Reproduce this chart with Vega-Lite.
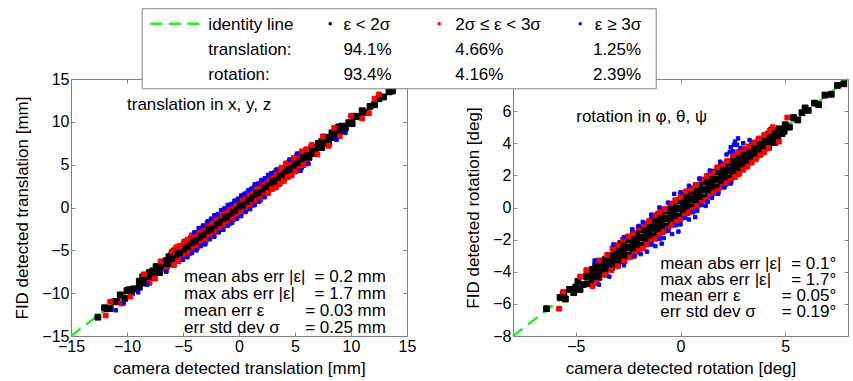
{
"$schema":"https://vega.github.io/schema/vega-lite/v6.json",
"background":"white",
"padding":{"left":13,"top":7,"right":3,"bottom":3},
"bounds":"flush",
"spacing":106,
"config":{
 "font":"Liberation Sans",
 "view":{"stroke":"#808080","strokeWidth":1},
 "axis":{"domain":false,"grid":false,"tickColor":"#808080","tickSize":-4,"labelFlush":false,"labelOverlap":false,"labelFont":"Liberation Sans","labelFontSize":16,"labelColor":"#000","titleFont":"Liberation Sans","titleFontSize":17,"titleFontWeight":"normal","titleColor":"#000","labelPadding":6,"titlePadding":6},
 "text":{"font":"Liberation Sans","fontSize":17,"color":"#000"}
},
"hconcat":[
{
 "width":336,"height":257,
 "data":{"values":[
{"x":-6,"y":-6.6,"c":"k"},{"x":-6,"y":-6.0,"c":"k"},{"x":-6,"y":-5.5,"c":"k"},
{"x":-5.75,"y":-6.15,"c":"k"},{"x":-5.75,"y":-5.55,"c":"k"},{"x":-5.75,"y":-5.05,"c":"k"},
{"x":-5.5,"y":-6.2,"c":"k"},{"x":-5.5,"y":-5.7,"c":"k"},{"x":-5.5,"y":-5.1,"c":"k"},
{"x":-5.25,"y":-5.75,"c":"k"},{"x":-5.25,"y":-5.15,"c":"k"},{"x":-5.25,"y":-4.65,"c":"k"},
{"x":-5,"y":-5.6,"c":"k"},{"x":-5,"y":-5.0,"c":"k"},{"x":-5,"y":-4.5,"c":"k"},
{"x":-4.75,"y":-5.15,"c":"k"},{"x":-4.75,"y":-4.55,"c":"k"},{"x":-4.75,"y":-4.05,"c":"k"},
{"x":-4.5,"y":-5.2,"c":"k"},{"x":-4.5,"y":-4.7,"c":"k"},{"x":-4.5,"y":-4.1,"c":"k"},
{"x":-4.25,"y":-4.75,"c":"k"},{"x":-4.25,"y":-4.15,"c":"k"},{"x":-4.25,"y":-3.65,"c":"k"},
{"x":-4,"y":-4.6,"c":"k"},{"x":-4,"y":-4.0,"c":"k"},{"x":-4,"y":-3.5,"c":"k"},
{"x":-3.75,"y":-4.15,"c":"k"},{"x":-3.75,"y":-3.55,"c":"k"},{"x":-3.75,"y":-3.05,"c":"k"},
{"x":-3.5,"y":-4.2,"c":"k"},{"x":-3.5,"y":-3.7,"c":"k"},{"x":-3.5,"y":-3.1,"c":"k"},
{"x":-3.25,"y":-3.75,"c":"k"},{"x":-3.25,"y":-3.15,"c":"k"},{"x":-3.25,"y":-2.65,"c":"k"},
{"x":-3,"y":-3.6,"c":"k"},{"x":-3,"y":-3.0,"c":"k"},{"x":-3,"y":-2.5,"c":"k"},
{"x":-2.75,"y":-3.15,"c":"k"},{"x":-2.75,"y":-2.55,"c":"k"},{"x":-2.75,"y":-2.05,"c":"k"},
{"x":-2.5,"y":-3.2,"c":"k"},{"x":-2.5,"y":-2.7,"c":"k"},{"x":-2.5,"y":-2.1,"c":"k"},
{"x":-2.25,"y":-2.75,"c":"k"},{"x":-2.25,"y":-2.15,"c":"k"},{"x":-2.25,"y":-1.65,"c":"k"},
{"x":-2,"y":-2.6,"c":"k"},{"x":-2,"y":-2.0,"c":"k"},{"x":-2,"y":-1.5,"c":"k"},
{"x":-1.75,"y":-2.15,"c":"k"},{"x":-1.75,"y":-1.55,"c":"k"},{"x":-1.75,"y":-1.05,"c":"k"},
{"x":-1.5,"y":-2.2,"c":"k"},{"x":-1.5,"y":-1.7,"c":"k"},{"x":-1.5,"y":-1.1,"c":"k"},
{"x":-1.25,"y":-1.75,"c":"k"},{"x":-1.25,"y":-1.15,"c":"k"},{"x":-1.25,"y":-0.65,"c":"k"},
{"x":-1,"y":-1.6,"c":"k"},{"x":-1,"y":-1.0,"c":"k"},{"x":-1,"y":-0.5,"c":"k"},
{"x":-0.75,"y":-1.15,"c":"k"},{"x":-0.75,"y":-0.55,"c":"k"},{"x":-0.75,"y":-0.05,"c":"k"},
{"x":-0.5,"y":-1.2,"c":"k"},{"x":-0.5,"y":-0.7,"c":"k"},{"x":-0.5,"y":-0.1,"c":"k"},
{"x":-0.25,"y":-0.75,"c":"k"},{"x":-0.25,"y":-0.15,"c":"k"},{"x":-0.25,"y":0.35,"c":"k"},
{"x":0,"y":-0.6,"c":"k"},{"x":0,"y":0,"c":"k"},{"x":0,"y":0.5,"c":"k"},
{"x":0.25,"y":-0.15,"c":"k"},{"x":0.25,"y":0.45,"c":"k"},{"x":0.25,"y":0.95,"c":"k"},
{"x":0.5,"y":-0.2,"c":"k"},{"x":0.5,"y":0.3,"c":"k"},{"x":0.5,"y":0.9,"c":"k"},
{"x":0.75,"y":0.25,"c":"k"},{"x":0.75,"y":0.85,"c":"k"},{"x":0.75,"y":1.35,"c":"k"},
{"x":1,"y":0.4,"c":"k"},{"x":1,"y":1.0,"c":"k"},{"x":1,"y":1.5,"c":"k"},
{"x":1.25,"y":0.85,"c":"k"},{"x":1.25,"y":1.45,"c":"k"},{"x":1.25,"y":1.95,"c":"k"},
{"x":1.5,"y":0.8,"c":"k"},{"x":1.5,"y":1.3,"c":"k"},{"x":1.5,"y":1.9,"c":"k"},
{"x":1.75,"y":1.25,"c":"k"},{"x":1.75,"y":1.85,"c":"k"},{"x":1.75,"y":2.35,"c":"k"},
{"x":2,"y":1.4,"c":"k"},{"x":2,"y":2.0,"c":"k"},{"x":2,"y":2.5,"c":"k"},
{"x":2.25,"y":1.85,"c":"k"},{"x":2.25,"y":2.45,"c":"k"},{"x":2.25,"y":2.95,"c":"k"},
{"x":2.5,"y":1.8,"c":"k"},{"x":2.5,"y":2.3,"c":"k"},{"x":2.5,"y":2.9,"c":"k"},
{"x":2.75,"y":2.25,"c":"k"},{"x":2.75,"y":2.85,"c":"k"},{"x":2.75,"y":3.35,"c":"k"},
{"x":3,"y":2.4,"c":"k"},{"x":3,"y":3.0,"c":"k"},{"x":3,"y":3.5,"c":"k"},
{"x":3.25,"y":2.85,"c":"k"},{"x":3.25,"y":3.45,"c":"k"},{"x":3.25,"y":3.95,"c":"k"},
{"x":3.5,"y":2.8,"c":"k"},{"x":3.5,"y":3.3,"c":"k"},{"x":3.5,"y":3.9,"c":"k"},
{"x":3.75,"y":3.25,"c":"k"},{"x":3.75,"y":3.85,"c":"k"},{"x":3.75,"y":4.35,"c":"k"},
{"x":4,"y":3.4,"c":"k"},{"x":4,"y":4.0,"c":"k"},{"x":4,"y":4.5,"c":"k"},
{"x":4.25,"y":3.85,"c":"k"},{"x":4.25,"y":4.45,"c":"k"},{"x":4.25,"y":4.95,"c":"k"},
{"x":4.5,"y":3.8,"c":"k"},{"x":4.5,"y":4.3,"c":"k"},{"x":4.5,"y":4.9,"c":"k"},
{"x":4.75,"y":4.25,"c":"k"},{"x":4.75,"y":4.85,"c":"k"},{"x":4.75,"y":5.35,"c":"k"},
{"x":5,"y":4.4,"c":"k"},{"x":5,"y":5.0,"c":"k"},{"x":5,"y":5.5,"c":"k"},
{"x":5.25,"y":4.85,"c":"k"},{"x":5.25,"y":5.45,"c":"k"},{"x":5.25,"y":5.95,"c":"k"},
{"x":5.5,"y":4.8,"c":"k"},{"x":5.5,"y":5.3,"c":"k"},{"x":5.5,"y":5.9,"c":"k"},
{"x":5.75,"y":5.25,"c":"k"},{"x":5.75,"y":5.85,"c":"k"},{"x":5.75,"y":6.35,"c":"k"},
{"x":6,"y":5.4,"c":"k"},{"x":6,"y":6.0,"c":"k"},{"x":6,"y":6.5,"c":"k"},
{"x":-8.9,"y":-9.3,"c":"k"},{"x":-8.9,"y":-8.6,"c":"k"},{"x":-8.6,"y":-8.8,"c":"k"},{"x":-8.6,"y":-8.1,"c":"k"},
{"x":-8.3,"y":-8.8,"c":"k"},{"x":-8.3,"y":-8.2,"c":"k"},{"x":-8,"y":-8.1,"c":"k"},{"x":-8,"y":-7.6,"c":"k"},
{"x":-7.7,"y":-8.1,"c":"k"},{"x":-7.7,"y":-7.4,"c":"k"},{"x":-7.4,"y":-7.6,"c":"k"},{"x":-7.4,"y":-6.9,"c":"k"},
{"x":-7.1,"y":-7.6,"c":"k"},{"x":-7.1,"y":-7.0,"c":"k"},{"x":-6.8,"y":-6.9,"c":"k"},{"x":-6.8,"y":-6.4,"c":"k"},
{"x":-6.5,"y":-6.9,"c":"k"},{"x":-6.5,"y":-6.2,"c":"k"},{"x":-6.25,"y":-6.45,"c":"k"},{"x":-6.25,"y":-5.75,"c":"k"},
{"x":6.25,"y":5.85,"c":"k"},{"x":6.25,"y":6.55,"c":"k"},{"x":6.5,"y":6.3,"c":"k"},{"x":6.5,"y":7.0,"c":"k"},
{"x":6.8,"y":6.3,"c":"k"},{"x":6.8,"y":6.9,"c":"k"},{"x":7.1,"y":7.0,"c":"k"},{"x":7.1,"y":7.5,"c":"k"},
{"x":7.4,"y":7.0,"c":"k"},{"x":7.4,"y":7.7,"c":"k"},{"x":7.7,"y":7.5,"c":"k"},{"x":7.7,"y":8.2,"c":"k"},
{"x":8,"y":7.5,"c":"k"},{"x":8,"y":8.1,"c":"k"},{"x":8.3,"y":8.2,"c":"k"},{"x":8.3,"y":8.7,"c":"k"},
{"x":8.6,"y":8.2,"c":"k"},{"x":8.6,"y":8.9,"c":"k"},{"x":8.9,"y":8.7,"c":"k"},{"x":8.9,"y":9.4,"c":"k"},
{"x":-12.6,"y":-12.8,"c":"k"},{"x":-12,"y":-11.7,"c":"k"},{"x":-11.5,"y":-11.8,"c":"k"},{"x":-11.1,"y":-11.0,"c":"k"},
{"x":-10.6,"y":-10.2,"c":"k"},{"x":-10.2,"y":-10.6,"c":"k"},{"x":-9.8,"y":-9.6,"c":"k"},{"x":-9.4,"y":-9.5,"c":"k"},
{"x":-11.8,"y":-11.8,"c":"k"},{"x":-10.9,"y":-11.0,"c":"k"},{"x":-10,"y":-9.7,"c":"k"},{"x":-9.6,"y":-9.9,"c":"k"},
{"x":9.2,"y":9.5,"c":"k"},{"x":9.5,"y":9.3,"c":"k"},{"x":9.8,"y":9.9,"c":"k"},{"x":10.1,"y":9.8,"c":"k"},
{"x":10.4,"y":10.6,"c":"k"},{"x":10.7,"y":10.6,"c":"k"},{"x":11,"y":11.3,"c":"k"},{"x":11.3,"y":11.1,"c":"k"},
{"x":11.7,"y":11.8,"c":"k"},{"x":12.1,"y":12.0,"c":"k"},{"x":12.5,"y":12.7,"c":"k"},{"x":12.9,"y":12.9,"c":"k"},
{"x":13.4,"y":13.5,"c":"k"},{"x":13.7,"y":13.6,"c":"k"},{"x":9.35,"y":8.95,"c":"k"},{"x":10.25,"y":10.65,"c":"k"},
{"x":-6,"y":-5.15,"c":"r"},{"x":-5.6,"y":-4.65,"c":"r"},{"x":-5.3,"y":-4.5,"c":"r"},{"x":-4.9,"y":-4.0,"c":"r"},
{"x":-4.6,"y":-3.75,"c":"r"},{"x":-4.2,"y":-3.25,"c":"r"},{"x":-3.9,"y":-3.1,"c":"r"},{"x":-3.5,"y":-2.6,"c":"r"},
{"x":-3.2,"y":-2.35,"c":"r"},{"x":-2.8,"y":-1.85,"c":"r"},{"x":-2.5,"y":-1.7,"c":"r"},{"x":-2.1,"y":-1.2,"c":"r"},
{"x":-1.8,"y":-0.95,"c":"r"},{"x":-1.4,"y":-0.45,"c":"r"},{"x":-1.1,"y":-0.3,"c":"r"},{"x":-0.7,"y":0.2,"c":"r"},
{"x":-0.4,"y":0.45,"c":"r"},{"x":0,"y":0.95,"c":"r"},{"x":0.3,"y":1.1,"c":"r"},{"x":0.7,"y":1.6,"c":"r"},
{"x":1,"y":1.85,"c":"r"},{"x":1.4,"y":2.35,"c":"r"},{"x":1.7,"y":2.5,"c":"r"},{"x":2.1,"y":3.0,"c":"r"},
{"x":2.4,"y":3.25,"c":"r"},{"x":2.8,"y":3.75,"c":"r"},{"x":3.1,"y":3.9,"c":"r"},{"x":3.5,"y":4.4,"c":"r"},
{"x":3.8,"y":4.65,"c":"r"},{"x":4.2,"y":5.15,"c":"r"},{"x":4.5,"y":5.3,"c":"r"},{"x":4.9,"y":5.8,"c":"r"},
{"x":5.2,"y":6.05,"c":"r"},{"x":5.6,"y":6.55,"c":"r"},{"x":6,"y":6.8,"c":"r"},
{"x":-5.8,"y":-6.7,"c":"r"},{"x":-5.45,"y":-6.25,"c":"r"},{"x":-5.1,"y":-6.05,"c":"r"},{"x":-4.75,"y":-5.6,"c":"r"},
{"x":-4.4,"y":-5.3,"c":"r"},{"x":-4.05,"y":-4.85,"c":"r"},{"x":-3.7,"y":-4.65,"c":"r"},{"x":-3.35,"y":-4.2,"c":"r"},
{"x":-3,"y":-3.9,"c":"r"},{"x":-2.65,"y":-3.45,"c":"r"},{"x":-2.3,"y":-3.25,"c":"r"},{"x":-1.95,"y":-2.8,"c":"r"},
{"x":-1.6,"y":-2.5,"c":"r"},{"x":-1.25,"y":-2.05,"c":"r"},{"x":-0.9,"y":-1.85,"c":"r"},{"x":-0.55,"y":-1.4,"c":"r"},
{"x":-0.2,"y":-1.1,"c":"r"},{"x":0.15,"y":-0.65,"c":"r"},{"x":0.5,"y":-0.45,"c":"r"},{"x":0.85,"y":0.0,"c":"r"},
{"x":1.2,"y":0.3,"c":"r"},{"x":1.55,"y":0.75,"c":"r"},{"x":1.9,"y":0.95,"c":"r"},{"x":2.25,"y":1.4,"c":"r"},
{"x":2.6,"y":1.7,"c":"r"},{"x":2.95,"y":2.15,"c":"r"},{"x":3.3,"y":2.35,"c":"r"},{"x":3.65,"y":2.8,"c":"r"},
{"x":4,"y":3.1,"c":"r"},{"x":4.35,"y":3.55,"c":"r"},{"x":4.7,"y":3.75,"c":"r"},{"x":5.05,"y":4.2,"c":"r"},
{"x":5.4,"y":4.5,"c":"r"},{"x":5.75,"y":4.95,"c":"r"},{"x":6.1,"y":5.15,"c":"r"},
{"x":-11.5,"y":-11.0,"c":"r"},{"x":-10.5,"y":-11.2,"c":"r"},{"x":-11.9,"y":-12.6,"c":"r"},{"x":-9.7,"y":-10.4,"c":"r"},
{"x":-8.5,"y":-7.8,"c":"r"},{"x":-8,"y":-8.8,"c":"r"},{"x":-7.5,"y":-8.3,"c":"r"},{"x":-7,"y":-6.3,"c":"r"},
{"x":-6.5,"y":-7.3,"c":"r"},{"x":6.5,"y":7.3,"c":"r"},{"x":7,"y":6.2,"c":"r"},{"x":7.5,"y":8.3,"c":"r"},
{"x":8,"y":7.2,"c":"r"},{"x":8.5,"y":9.3,"c":"r"},{"x":9,"y":8.3,"c":"r"},{"x":10,"y":10.7,"c":"r"},
{"x":11,"y":10.4,"c":"r"},{"x":11.6,"y":11.0,"c":"r"},{"x":12.1,"y":12.7,"c":"r"},{"x":12.5,"y":13.2,"c":"r"},
{"x":-4,"y":-2.9,"c":"b"},{"x":-3.6,"y":-2.4,"c":"b"},{"x":-3.2,"y":-2.1,"c":"b"},{"x":-2.8,"y":-1.6,"c":"b"},
{"x":-2.5,"y":-1.3,"c":"b"},{"x":-2.2,"y":-0.9,"c":"b"},{"x":-1.9,"y":-0.8,"c":"b"},{"x":-1.6,"y":-0.3,"c":"b"},
{"x":-1.3,"y":-0.1,"c":"b"},{"x":-1,"y":0.3,"c":"b"},{"x":-0.7,"y":0.4,"c":"b"},{"x":-0.4,"y":0.8,"c":"b"},
{"x":-0.1,"y":1.0,"c":"b"},{"x":0.2,"y":1.4,"c":"b"},{"x":0.5,"y":1.6,"c":"b"},{"x":0.8,"y":2.0,"c":"b"},
{"x":1.1,"y":2.2,"c":"b"},{"x":1.4,"y":2.7,"c":"b"},{"x":1.7,"y":2.8,"c":"b"},{"x":2,"y":3.2,"c":"b"},
{"x":2.3,"y":3.4,"c":"b"},{"x":2.6,"y":3.8,"c":"b"},{"x":2.9,"y":4.0,"c":"b"},{"x":3.3,"y":4.4,"c":"b"},
{"x":-5,"y":-6.1,"c":"b"},{"x":-4.6,"y":-5.8,"c":"b"},{"x":-4.2,"y":-5.3,"c":"b"},{"x":-3.8,"y":-5.0,"c":"b"},
{"x":-3.4,"y":-4.5,"c":"b"},{"x":-3,"y":-4.3,"c":"b"},{"x":-2.6,"y":-3.7,"c":"b"},{"x":-2.2,"y":-3.4,"c":"b"},
{"x":-1.8,"y":-2.9,"c":"b"},{"x":-1.4,"y":-2.6,"c":"b"},{"x":-1,"y":-2.1,"c":"b"},{"x":-0.6,"y":-1.8,"c":"b"},
{"x":-0.2,"y":-1.3,"c":"b"},{"x":0.2,"y":-1.0,"c":"b"},{"x":0.6,"y":-0.5,"c":"b"},{"x":1,"y":-0.2,"c":"b"},
{"x":1.4,"y":0.3,"c":"b"},{"x":1.8,"y":0.7,"c":"b"},{"x":2.3,"y":1.2,"c":"b"},
{"x":-11,"y":-12.0,"c":"b"},{"x":-10.3,"y":-11.2,"c":"b"},{"x":-9,"y":-9.9,"c":"b"},{"x":-8.2,"y":-9.0,"c":"b"},
{"x":-6.5,"y":-7.5,"c":"b"},{"x":5.5,"y":4.3,"c":"b"},{"x":6.2,"y":5.1,"c":"b"},{"x":4.5,"y":5.6,"c":"b"},
{"x":5.2,"y":6.3,"c":"b"},{"x":8.7,"y":7.9,"c":"b"},{"x":9.5,"y":8.7,"c":"b"}
 ]},
 "layer":[
  {"data":{"values":[{}]},
   "mark":{"type":"rule","color":"#22ee22","strokeWidth":2.5,"strokeDash":[12,7]},
   "encoding":{
    "x":{"datum":-15,"type":"quantitative","scale":{"domain":[-15,15],"nice":false,"zero":false},"axis":{"orient":"bottom","values":[-15,-10,-5,0,5,10,15],"title":"camera detected translation [mm]"}},
    "y":{"datum":-15,"type":"quantitative","scale":{"domain":[-15,15],"nice":false,"zero":false},"axis":{"orient":"left","values":[-15,-10,-5,0,5,10,15],"title":"FID detected translation [mm]","titlePadding":10}},
    "x2":{"datum":15},"y2":{"datum":15}}},
  {"mark":{"type":"square","opacity":1,"strokeWidth":1,"strokeOpacity":1},
   "encoding":{
    "x":{"field":"x","type":"quantitative","scale":{"domain":[-15,15],"nice":false,"zero":false},"axis":{"orient":"top","values":[-15,-10,-5,0,5,10,15],"labels":false,"title":null}},
    "y":{"field":"y","type":"quantitative","scale":{"domain":[-15,15],"nice":false,"zero":false},"axis":{"orient":"right","values":[-15,-10,-5,0,5,10,15],"labels":false,"title":null}},
    "color":{"field":"c","type":"nominal","scale":{"domain":["k","r","b"],"range":["#000000","#ff0000","#0000ff"]},"legend":null},
    "stroke":{"field":"c","type":"nominal","scale":{"domain":["k","r","b"],"range":["#000000","#ff0000","#0000ff"]},"legend":null},
    "size":{"field":"c","type":"nominal","scale":{"domain":["k","r","b"],"range":[34,12,7]},"legend":null}}},
  {"data":{"values":[{}]},
   "mark":{"type":"text","text":"translation in x, y, z","align":"left","baseline":"middle"},
   "encoding":{"x":{"datum":-10,"type":"quantitative","axis":null},"y":{"datum":11.93,"type":"quantitative","axis":null}}},
  {"data":{"values":[{}]},
   "mark":{"type":"text","text":["mean abs err |ε|","max abs err |ε|","mean err ε","err std dev σ"],"align":"left","baseline":"middle","lineHeight":17},
   "encoding":{"x":{"datum":-4.9,"type":"quantitative","axis":null},"y":{"datum":-8.1,"type":"quantitative","axis":null}}},
  {"data":{"values":[{}]},
   "mark":{"type":"text","text":["= 0.2 mm","= 1.7 mm","= 0.03 mm","= 0.25 mm"],"align":"right","baseline":"middle","lineHeight":17},
   "encoding":{"x":{"datum":13.12,"type":"quantitative","axis":null},"y":{"datum":-8.1,"type":"quantitative","axis":null}}}
 ],
 "resolve":{"axis":{"x":"independent","y":"independent"}}
},
{
 "width":335,"height":257,
 "data":{"values":[
{"x":-4.2,"y":-4.65,"c":"k"},{"x":-4.2,"y":-4.25,"c":"k"},{"x":-4.2,"y":-3.85,"c":"k"},
{"x":-4.05,"y":-4.35,"c":"k"},{"x":-4.05,"y":-3.95,"c":"k"},{"x":-4.05,"y":-3.6,"c":"k"},
{"x":-3.9,"y":-4.35,"c":"k"},{"x":-3.9,"y":-4.05,"c":"k"},{"x":-3.9,"y":-3.65,"c":"k"},
{"x":-3.75,"y":-4.1,"c":"k"},{"x":-3.75,"y":-3.7,"c":"k"},{"x":-3.75,"y":-3.35,"c":"k"},
{"x":-3.6,"y":-4.05,"c":"k"},{"x":-3.6,"y":-3.65,"c":"k"},{"x":-3.6,"y":-3.25,"c":"k"},
{"x":-3.45,"y":-3.75,"c":"k"},{"x":-3.45,"y":-3.35,"c":"k"},{"x":-3.45,"y":-3.0,"c":"k"},
{"x":-3.3,"y":-3.75,"c":"k"},{"x":-3.3,"y":-3.45,"c":"k"},{"x":-3.3,"y":-3.05,"c":"k"},
{"x":-3.15,"y":-3.5,"c":"k"},{"x":-3.15,"y":-3.1,"c":"k"},{"x":-3.15,"y":-2.75,"c":"k"},
{"x":-3,"y":-3.55,"c":"k"},{"x":-3,"y":-3.05,"c":"k"},{"x":-3,"y":-2.55,"c":"k"},
{"x":-2.85,"y":-3.2,"c":"k"},{"x":-2.85,"y":-2.7,"c":"k"},{"x":-2.85,"y":-2.25,"c":"k"},
{"x":-2.7,"y":-3.3,"c":"k"},{"x":-2.7,"y":-2.9,"c":"k"},{"x":-2.7,"y":-2.4,"c":"k"},
{"x":-2.55,"y":-3.0,"c":"k"},{"x":-2.55,"y":-2.5,"c":"k"},{"x":-2.55,"y":-2.0,"c":"k"},
{"x":-2.4,"y":-2.95,"c":"k"},{"x":-2.4,"y":-2.45,"c":"k"},{"x":-2.4,"y":-1.95,"c":"k"},
{"x":-2.25,"y":-2.6,"c":"k"},{"x":-2.25,"y":-2.1,"c":"k"},{"x":-2.25,"y":-1.65,"c":"k"},
{"x":-2.1,"y":-2.7,"c":"k"},{"x":-2.1,"y":-2.3,"c":"k"},{"x":-2.1,"y":-1.8,"c":"k"},
{"x":-1.95,"y":-2.4,"c":"k"},{"x":-1.95,"y":-1.9,"c":"k"},{"x":-1.95,"y":-1.4,"c":"k"},
{"x":-1.8,"y":-2.35,"c":"k"},{"x":-1.8,"y":-1.85,"c":"k"},{"x":-1.8,"y":-1.35,"c":"k"},
{"x":-1.65,"y":-2.0,"c":"k"},{"x":-1.65,"y":-1.5,"c":"k"},{"x":-1.65,"y":-1.05,"c":"k"},
{"x":-1.5,"y":-2.1,"c":"k"},{"x":-1.5,"y":-1.7,"c":"k"},{"x":-1.5,"y":-1.2,"c":"k"},
{"x":-1.35,"y":-1.8,"c":"k"},{"x":-1.35,"y":-1.3,"c":"k"},{"x":-1.35,"y":-0.8,"c":"k"},
{"x":-1.2,"y":-1.75,"c":"k"},{"x":-1.2,"y":-1.25,"c":"k"},{"x":-1.2,"y":-0.75,"c":"k"},
{"x":-1.05,"y":-1.4,"c":"k"},{"x":-1.05,"y":-0.9,"c":"k"},{"x":-1.05,"y":-0.45,"c":"k"},
{"x":-0.9,"y":-1.5,"c":"k"},{"x":-0.9,"y":-1.1,"c":"k"},{"x":-0.9,"y":-0.6,"c":"k"},
{"x":-0.75,"y":-1.2,"c":"k"},{"x":-0.75,"y":-0.7,"c":"k"},{"x":-0.75,"y":-0.2,"c":"k"},
{"x":-0.6,"y":-1.15,"c":"k"},{"x":-0.6,"y":-0.65,"c":"k"},{"x":-0.6,"y":-0.15,"c":"k"},
{"x":-0.45,"y":-0.8,"c":"k"},{"x":-0.45,"y":-0.3,"c":"k"},{"x":-0.45,"y":0.15,"c":"k"},
{"x":-0.3,"y":-0.9,"c":"k"},{"x":-0.3,"y":-0.5,"c":"k"},{"x":-0.3,"y":0.0,"c":"k"},
{"x":-0.15,"y":-0.6,"c":"k"},{"x":-0.15,"y":-0.1,"c":"k"},{"x":-0.15,"y":0.4,"c":"k"},
{"x":0,"y":-0.55,"c":"k"},{"x":0,"y":-0.05,"c":"k"},{"x":0,"y":0.45,"c":"k"},
{"x":0.15,"y":-0.2,"c":"k"},{"x":0.15,"y":0.3,"c":"k"},{"x":0.15,"y":0.75,"c":"k"},
{"x":0.3,"y":-0.3,"c":"k"},{"x":0.3,"y":0.1,"c":"k"},{"x":0.3,"y":0.6,"c":"k"},
{"x":0.45,"y":0.0,"c":"k"},{"x":0.45,"y":0.5,"c":"k"},{"x":0.45,"y":1.0,"c":"k"},
{"x":0.6,"y":0.05,"c":"k"},{"x":0.6,"y":0.55,"c":"k"},{"x":0.6,"y":1.05,"c":"k"},
{"x":0.75,"y":0.4,"c":"k"},{"x":0.75,"y":0.9,"c":"k"},{"x":0.75,"y":1.35,"c":"k"},
{"x":0.9,"y":0.3,"c":"k"},{"x":0.9,"y":0.7,"c":"k"},{"x":0.9,"y":1.2,"c":"k"},
{"x":1.05,"y":0.6,"c":"k"},{"x":1.05,"y":1.1,"c":"k"},{"x":1.05,"y":1.6,"c":"k"},
{"x":1.2,"y":0.65,"c":"k"},{"x":1.2,"y":1.15,"c":"k"},{"x":1.2,"y":1.65,"c":"k"},
{"x":1.35,"y":1.0,"c":"k"},{"x":1.35,"y":1.5,"c":"k"},{"x":1.35,"y":1.95,"c":"k"},
{"x":1.5,"y":0.9,"c":"k"},{"x":1.5,"y":1.3,"c":"k"},{"x":1.5,"y":1.8,"c":"k"},
{"x":1.65,"y":1.2,"c":"k"},{"x":1.65,"y":1.7,"c":"k"},{"x":1.65,"y":2.2,"c":"k"},
{"x":1.8,"y":1.25,"c":"k"},{"x":1.8,"y":1.75,"c":"k"},{"x":1.8,"y":2.25,"c":"k"},
{"x":1.95,"y":1.6,"c":"k"},{"x":1.95,"y":2.1,"c":"k"},{"x":1.95,"y":2.55,"c":"k"},
{"x":2.1,"y":1.5,"c":"k"},{"x":2.1,"y":1.9,"c":"k"},{"x":2.1,"y":2.4,"c":"k"},
{"x":2.25,"y":1.8,"c":"k"},{"x":2.25,"y":2.3,"c":"k"},{"x":2.25,"y":2.8,"c":"k"},
{"x":2.4,"y":1.85,"c":"k"},{"x":2.4,"y":2.35,"c":"k"},{"x":2.4,"y":2.85,"c":"k"},
{"x":2.55,"y":2.2,"c":"k"},{"x":2.55,"y":2.7,"c":"k"},{"x":2.55,"y":3.15,"c":"k"},
{"x":2.7,"y":2.1,"c":"k"},{"x":2.7,"y":2.5,"c":"k"},{"x":2.7,"y":3.0,"c":"k"},
{"x":2.85,"y":2.4,"c":"k"},{"x":2.85,"y":2.9,"c":"k"},{"x":2.85,"y":3.4,"c":"k"},
{"x":3,"y":2.55,"c":"k"},{"x":3,"y":2.95,"c":"k"},{"x":3,"y":3.35,"c":"k"},
{"x":3.15,"y":2.85,"c":"k"},{"x":3.15,"y":3.25,"c":"k"},{"x":3.15,"y":3.6,"c":"k"},
{"x":3.3,"y":2.85,"c":"k"},{"x":3.3,"y":3.15,"c":"k"},{"x":3.3,"y":3.55,"c":"k"},
{"x":3.45,"y":3.1,"c":"k"},{"x":3.45,"y":3.5,"c":"k"},{"x":3.45,"y":3.85,"c":"k"},
{"x":3.6,"y":3.15,"c":"k"},{"x":3.6,"y":3.55,"c":"k"},{"x":3.6,"y":3.95,"c":"k"},
{"x":3.75,"y":3.45,"c":"k"},{"x":3.75,"y":3.85,"c":"k"},{"x":3.75,"y":4.2,"c":"k"},
{"x":3.9,"y":3.45,"c":"k"},{"x":3.9,"y":3.75,"c":"k"},{"x":3.9,"y":4.15,"c":"k"},
{"x":4.05,"y":3.7,"c":"k"},{"x":4.05,"y":4.1,"c":"k"},{"x":4.05,"y":4.45,"c":"k"},
{"x":4.2,"y":3.75,"c":"k"},{"x":4.2,"y":4.15,"c":"k"},{"x":4.2,"y":4.55,"c":"k"},
{"x":4.35,"y":4.05,"c":"k"},{"x":4.35,"y":4.45,"c":"k"},{"x":4.35,"y":4.8,"c":"k"},
{"x":4.5,"y":4.05,"c":"k"},{"x":4.5,"y":4.35,"c":"k"},{"x":4.5,"y":4.75,"c":"k"},
{"x":-6.4,"y":-6.3,"c":"k"},{"x":-5.75,"y":-5.6,"c":"k"},{"x":-5.6,"y":-5.4,"c":"k"},{"x":-5.5,"y":-5.7,"c":"k"},
{"x":-5.3,"y":-5.1,"c":"k"},{"x":-5.1,"y":-5.3,"c":"k"},{"x":-5,"y":-4.95,"c":"k"},{"x":-4.9,"y":-4.6,"c":"k"},
{"x":-4.8,"y":-5.1,"c":"k"},{"x":-4.65,"y":-4.8,"c":"k"},{"x":-4.5,"y":-4.3,"c":"k"},{"x":-4.45,"y":-4.75,"c":"k"},
{"x":-4.35,"y":-4.1,"c":"k"},
{"x":4.65,"y":4.4,"c":"k"},{"x":4.7,"y":4.9,"c":"k"},{"x":4.85,"y":4.6,"c":"k"},{"x":4.95,"y":4.75,"c":"k"},
{"x":5,"y":5.15,"c":"k"},{"x":5.2,"y":5.0,"c":"k"},{"x":5.4,"y":5.6,"c":"k"},{"x":5.6,"y":5.45,"c":"k"},
{"x":5.8,"y":5.9,"c":"k"},{"x":5.95,"y":6.2,"c":"k"},{"x":6.1,"y":6.05,"c":"k"},{"x":6.4,"y":6.5,"c":"k"},
{"x":6.6,"y":6.4,"c":"k"},{"x":6.9,"y":7.0,"c":"k"},{"x":7.2,"y":7.05,"c":"k"},{"x":7.5,"y":7.6,"c":"k"},
{"x":7.8,"y":7.7,"c":"k"},
{"x":-3.5,"y":-2.95,"c":"r"},{"x":-3.25,"y":-2.55,"c":"r"},{"x":-3,"y":-2.35,"c":"r"},{"x":-2.75,"y":-2.0,"c":"r"},
{"x":-2.5,"y":-1.8,"c":"r"},{"x":-2.25,"y":-1.6,"c":"r"},{"x":-2,"y":-1.25,"c":"r"},{"x":-1.75,"y":-1.05,"c":"r"},
{"x":-1.5,"y":-0.85,"c":"r"},{"x":-1.25,"y":-0.5,"c":"r"},{"x":-1,"y":-0.3,"c":"r"},{"x":-0.75,"y":-0.1,"c":"r"},
{"x":-0.5,"y":0.25,"c":"r"},{"x":-0.25,"y":0.45,"c":"r"},{"x":0,"y":0.65,"c":"r"},{"x":0.25,"y":1.0,"c":"r"},
{"x":0.5,"y":1.2,"c":"r"},{"x":0.75,"y":1.4,"c":"r"},{"x":1,"y":1.75,"c":"r"},{"x":1.25,"y":1.95,"c":"r"},
{"x":1.5,"y":2.15,"c":"r"},{"x":1.75,"y":2.5,"c":"r"},{"x":2,"y":2.7,"c":"r"},{"x":2.25,"y":2.9,"c":"r"},
{"x":2.5,"y":3.25,"c":"r"},{"x":2.75,"y":3.45,"c":"r"},{"x":3,"y":3.65,"c":"r"},{"x":3.25,"y":3.8,"c":"r"},
{"x":3.5,"y":4.05,"c":"r"},{"x":3.75,"y":4.3,"c":"r"},{"x":4,"y":4.5,"c":"r"},{"x":4.25,"y":4.75,"c":"r"},
{"x":-3.6,"y":-4.2,"c":"r"},{"x":-3.3,"y":-3.9,"c":"r"},{"x":-3,"y":-3.65,"c":"r"},{"x":-2.7,"y":-3.35,"c":"r"},
{"x":-2.4,"y":-3.1,"c":"r"},{"x":-2.2,"y":-2.9,"c":"r"},{"x":-2,"y":-2.7,"c":"r"},{"x":-1.8,"y":-2.55,"c":"r"},
{"x":-1.6,"y":-2.3,"c":"r"},{"x":-1.4,"y":-2.1,"c":"r"},{"x":-1.2,"y":-1.95,"c":"r"},{"x":-1,"y":-1.7,"c":"r"},
{"x":-0.8,"y":-1.5,"c":"r"},{"x":-0.6,"y":-1.35,"c":"r"},{"x":-0.4,"y":-1.1,"c":"r"},{"x":-0.2,"y":-0.9,"c":"r"},
{"x":0,"y":-0.75,"c":"r"},{"x":0.2,"y":-0.5,"c":"r"},{"x":0.4,"y":-0.3,"c":"r"},{"x":0.6,"y":-0.15,"c":"r"},
{"x":0.8,"y":0.1,"c":"r"},{"x":1,"y":0.3,"c":"r"},{"x":1.2,"y":0.45,"c":"r"},{"x":1.4,"y":0.7,"c":"r"},
{"x":1.6,"y":0.9,"c":"r"},{"x":1.8,"y":1.05,"c":"r"},{"x":2,"y":1.3,"c":"r"},{"x":2.2,"y":1.5,"c":"r"},
{"x":2.4,"y":1.65,"c":"r"},{"x":2.6,"y":1.9,"c":"r"},{"x":2.8,"y":2.1,"c":"r"},{"x":3,"y":2.35,"c":"r"},
{"x":3.2,"y":2.55,"c":"r"},{"x":3.4,"y":2.8,"c":"r"},{"x":3.6,"y":3.0,"c":"r"},{"x":3.8,"y":3.25,"c":"r"},
{"x":4,"y":3.45,"c":"r"},{"x":4.2,"y":3.7,"c":"r"},
{"x":-5.6,"y":-5.25,"c":"r"},{"x":-5.8,"y":-6.3,"c":"r"},{"x":-4.5,"y":-3.9,"c":"r"},{"x":-4.2,"y":-4.9,"c":"r"},
{"x":-3.9,"y":-3.3,"c":"r"},{"x":-4.8,"y":-4.3,"c":"r"},{"x":-4,"y":-4.7,"c":"r"},{"x":-3.2,"y":-2.5,"c":"r"},
{"x":4.4,"y":5.0,"c":"r"},{"x":4.7,"y":4.1,"c":"r"},{"x":5.1,"y":5.6,"c":"r"},
{"x":-2.2,"y":-3.05,"c":"b"},{"x":-1.9,"y":-2.9,"c":"b"},{"x":-1.6,"y":-2.75,"c":"b"},{"x":-1.4,"y":-2.3,"c":"b"},
{"x":-1.2,"y":-2.4,"c":"b"},{"x":-1,"y":-1.95,"c":"b"},{"x":-0.8,"y":-1.9,"c":"b"},{"x":-0.6,"y":-1.45,"c":"b"},
{"x":-0.4,"y":-1.65,"c":"b"},{"x":-0.2,"y":-1.1,"c":"b"},{"x":0,"y":-1.05,"c":"b"},{"x":0.2,"y":-0.65,"c":"b"},
{"x":0.4,"y":-0.75,"c":"b"},{"x":0.6,"y":-0.3,"c":"b"},{"x":0.8,"y":-0.2,"c":"b"},{"x":1,"y":0.15,"c":"b"},
{"x":1.2,"y":0.1,"c":"b"},{"x":1.5,"y":0.6,"c":"b"},{"x":1.8,"y":0.85,"c":"b"},{"x":2.1,"y":1.25,"c":"b"},
{"x":2.4,"y":1.5,"c":"b"},{"x":-0.9,"y":-2.25,"c":"b"},{"x":-0.1,"y":-1.5,"c":"b"},{"x":0.7,"y":-0.6,"c":"b"},
{"x":1.3,"y":0.35,"c":"b"},{"x":-3.9,"y":-4.8,"c":"b"},{"x":-3.4,"y":-4.3,"c":"b"},{"x":-2.7,"y":-3.6,"c":"b"},
{"x":-3.2,"y":-2.3,"c":"b"},{"x":-2.7,"y":-1.85,"c":"b"},{"x":-2.3,"y":-1.35,"c":"b"},{"x":-1.8,"y":-0.9,"c":"b"},
{"x":-1.4,"y":-0.45,"c":"b"},{"x":-1,"y":0.0,"c":"b"},{"x":-0.6,"y":0.3,"c":"b"},{"x":-0.3,"y":0.85,"c":"b"},
{"x":0,"y":0.95,"c":"b"},{"x":0.4,"y":1.35,"c":"b"},{"x":0.9,"y":1.8,"c":"b"},{"x":1.4,"y":2.3,"c":"b"},
{"x":1.9,"y":2.85,"c":"b"},{"x":2.2,"y":3.3,"c":"b"},{"x":2.4,"y":3.75,"c":"b"},{"x":2.5,"y":3.5,"c":"b"},
{"x":2.6,"y":4.1,"c":"b"},{"x":2.7,"y":3.9,"c":"b"},{"x":2.75,"y":4.3,"c":"b"},{"x":2.85,"y":3.7,"c":"b"},
{"x":3,"y":4.0,"c":"b"},{"x":2.35,"y":3.45,"c":"b"},{"x":2.55,"y":3.9,"c":"b"},{"x":3.3,"y":4.2,"c":"b"},
{"x":-4.1,"y":-3.3,"c":"b"},{"x":-2,"y":-1.15,"c":"b"}
 ]},
 "layer":[
  {"data":{"values":[{}]},
   "mark":{"type":"rule","color":"#22ee22","strokeWidth":2.5,"strokeDash":[12,7]},
   "encoding":{
    "x":{"datum":-8,"type":"quantitative","scale":{"domain":[-8,8],"nice":false,"zero":false},"axis":{"orient":"bottom","values":[-5,0,5],"title":"camera detected rotation [deg]"}},
    "y":{"datum":-8,"type":"quantitative","scale":{"domain":[-8,8],"nice":false,"zero":false},"axis":{"orient":"left","values":[-8,-6,-4,-2,0,2,4,6,8],"title":"FID detected rotation [deg]","titlePadding":10}},
    "x2":{"datum":8},"y2":{"datum":8}}},
  {"mark":{"type":"square","opacity":1,"strokeWidth":1,"strokeOpacity":1},
   "encoding":{
    "x":{"field":"x","type":"quantitative","scale":{"domain":[-8,8],"nice":false,"zero":false},"axis":{"orient":"top","values":[-5,0,5],"labels":false,"title":null}},
    "y":{"field":"y","type":"quantitative","scale":{"domain":[-8,8],"nice":false,"zero":false},"axis":{"orient":"right","values":[-8,-6,-4,-2,0,2,4,6,8],"labels":false,"title":null}},
    "color":{"field":"c","type":"nominal","scale":{"domain":["k","r","b"],"range":["#000000","#ff0000","#0000ff"]},"legend":null},
    "stroke":{"field":"c","type":"nominal","scale":{"domain":["k","r","b"],"range":["#000000","#ff0000","#0000ff"]},"legend":null},
    "size":{"field":"c","type":"nominal","scale":{"domain":["k","r","b"],"range":[42,12,7]},"legend":null}}},
  {"data":{"values":[{}]},
   "mark":{"type":"text","text":"rotation in φ, θ, ψ","align":"left","baseline":"middle"},
   "encoding":{"x":{"datum":-4.98,"type":"quantitative","axis":null},"y":{"datum":5.64,"type":"quantitative","axis":null}}},
  {"data":{"values":[{}]},
   "mark":{"type":"text","text":["mean abs err |ε|","max abs err |ε|","mean err ε","err std dev σ"],"align":"left","baseline":"middle","lineHeight":16},
   "encoding":{"x":{"datum":-0.97,"type":"quantitative","axis":null},"y":{"datum":-3.51,"type":"quantitative","axis":null}}},
  {"data":{"values":[{}]},
   "mark":{"type":"text","text":["= 0.1°","= 1.7°","= 0.05°","= 0.19°"],"align":"right","baseline":"middle","lineHeight":16},
   "encoding":{"x":{"datum":7.44,"type":"quantitative","axis":null},"y":{"datum":-3.51,"type":"quantitative","axis":null}}},
  {"data":{"values":[{}]},
   "mark":{"type":"rect","fill":"#ffffff","stroke":"#808080","strokeWidth":1},
   "encoding":{"x":{"datum":-25.71,"type":"quantitative","axis":null},"x2":{"datum":-1.16},"y":{"datum":12.37,"type":"quantitative","axis":null},"y2":{"datum":7.39}}},
  {"data":{"values":[{}]},
   "mark":{"type":"rule","color":"#22ee22","strokeWidth":2.5,"strokeDash":[12,6.5]},
   "encoding":{"x":{"datum":-25.32,"type":"quantitative","axis":null},"x2":{"datum":-22.98},"y":{"datum":11.44,"type":"quantitative","axis":null}}},
  {"data":{"values":[{}]},
   "mark":{"type":"square","size":9,"color":"#000000","opacity":1},
   "encoding":{"x":{"datum":-16.73,"type":"quantitative","axis":null},"y":{"datum":11.44,"type":"quantitative","axis":null}}},
  {"data":{"values":[{}]},
   "mark":{"type":"square","size":9,"color":"#ff0000","opacity":1},
   "encoding":{"x":{"datum":-11.53,"type":"quantitative","axis":null},"y":{"datum":11.44,"type":"quantitative","axis":null}}},
  {"data":{"values":[{}]},
   "mark":{"type":"square","size":9,"color":"#0000ff","opacity":1},
   "encoding":{"x":{"datum":-4.79,"type":"quantitative","axis":null},"y":{"datum":11.44,"type":"quantitative","axis":null}}},
  {"data":{"values":[{}]},
   "mark":{"type":"text","text":["identity line","translation:","rotation:"],"align":"left","baseline":"middle","lineHeight":25},
   "encoding":{"x":{"datum":-22.55,"type":"quantitative","axis":null},"y":{"datum":11.38,"type":"quantitative","axis":null}}},
  {"data":{"values":[{}]},
   "mark":{"type":"text","text":["ε < 2σ","94.1%","93.4%"],"align":"left","baseline":"middle","lineHeight":25},
   "encoding":{"x":{"datum":-16.1,"type":"quantitative","axis":null},"y":{"datum":11.38,"type":"quantitative","axis":null}}},
  {"data":{"values":[{}]},
   "mark":{"type":"text","text":["2σ ≤ ε < 3σ","4.66%","4.16%"],"align":"left","baseline":"middle","lineHeight":25},
   "encoding":{"x":{"datum":-10.76,"type":"quantitative","axis":null},"y":{"datum":11.38,"type":"quantitative","axis":null}}},
  {"data":{"values":[{}]},
   "mark":{"type":"text","text":["ε ≥ 3σ","1.25%","2.39%"],"align":"right","baseline":"middle","lineHeight":25},
   "encoding":{"x":{"datum":-1.88,"type":"quantitative","axis":null},"y":{"datum":11.38,"type":"quantitative","axis":null}}}
 ],
 "resolve":{"axis":{"x":"independent","y":"independent"}}
}
]
}
